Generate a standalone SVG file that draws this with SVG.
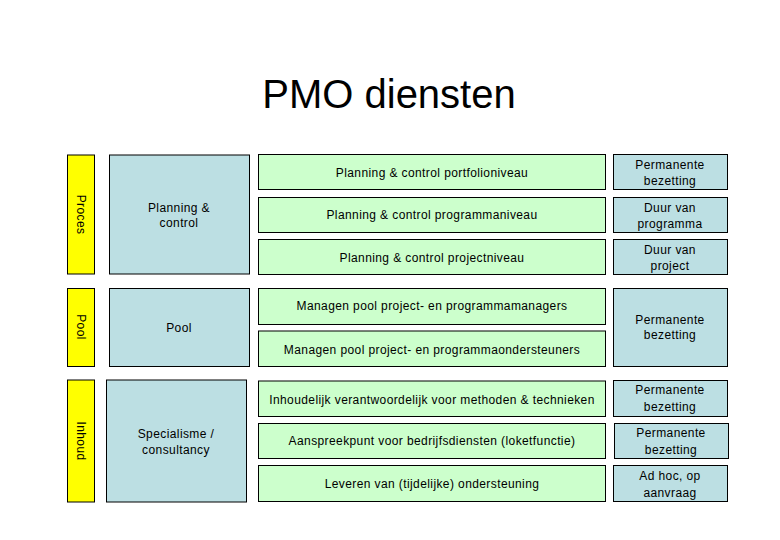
<svg xmlns="http://www.w3.org/2000/svg" width="780" height="540" viewBox="0 0 780 540">
<style>
.y{fill:#FFFF00;stroke:#000;stroke-width:1}
.b{fill:#BCDFE3;stroke:#000;stroke-width:1}
.g{fill:#CCFFCC;stroke:#000;stroke-width:1}
text{font-family:"Liberation Sans",Arial,sans-serif;font-size:12px;fill:#000;text-anchor:middle;letter-spacing:0.4px}
.t{font-size:40px;letter-spacing:0}
</style>
<rect width="780" height="540" fill="#fff"/>
<text class="t" x="389" y="108">PMO diensten</text>
<g id="proces">
<rect class="y" x="67.5" y="155" width="27" height="119"/>
<text transform="translate(77 214.5) rotate(90)">Proces</text>
</g>
<g id="pool-label">
<rect class="y" x="67.5" y="288.5" width="27" height="78"/>
<text transform="translate(77 327) rotate(90)">Pool</text>
</g>
<g id="inhoud">
<rect class="y" x="67.5" y="380" width="27" height="122"/>
<text transform="translate(77 441) rotate(90)">Inhoud</text>
</g>
<g id="planning">
<rect class="b" x="109.5" y="155" width="140" height="119"/>
<text x="179" y="212">Planning &amp;</text>
<text x="179" y="227">control</text>
</g>
<g id="pool">
<rect class="b" x="109.5" y="288.5" width="140" height="78"/>
<text x="179" y="332">Pool</text>
</g>
<g id="specialisme">
<rect class="b" x="106.5" y="380" width="140" height="122"/>
<text x="176" y="438">Specialisme /</text>
<text x="176" y="454">consultancy</text>
</g>
<g id="r1">
<rect class="g" x="258.5" y="154.5" width="347" height="35"/>
<text x="432" y="177">Planning &amp; control portfolioniveau</text>
</g>
<g id="r2">
<rect class="g" x="258.5" y="197.5" width="347" height="35"/>
<text x="432" y="219">Planning &amp; control programmaniveau</text>
</g>
<g id="r3">
<rect class="g" x="258.5" y="239.5" width="347" height="35"/>
<text x="432" y="262">Planning &amp; control projectniveau</text>
</g>
<g id="r4">
<rect class="g" x="258.5" y="288.5" width="347" height="36"/>
<text x="432" y="310">Managen pool project- en programmamanagers</text>
</g>
<g id="r5">
<rect class="g" x="258.5" y="331" width="347" height="35.5"/>
<text x="432" y="354">Managen pool project- en programmaondersteuners</text>
</g>
<g id="r6">
<rect class="g" x="258.5" y="381" width="347" height="35.5"/>
<text x="432" y="404">Inhoudelijk verantwoordelijk voor methoden &amp; technieken</text>
</g>
<g id="r7">
<rect class="g" x="258.5" y="423.5" width="347" height="35"/>
<text x="432" y="445">Aanspreekpunt voor bedrijfsdiensten (loketfunctie)</text>
</g>
<g id="r8">
<rect class="g" x="258.5" y="465.5" width="347" height="36"/>
<text x="432" y="488">Leveren van (tijdelijke) ondersteuning</text>
</g>
<g id="d1">
<rect class="b" x="613.5" y="154.5" width="114" height="35"/>
<text x="670" y="169">Permanente</text>
<text x="670" y="185">bezetting</text>
</g>
<g id="d2">
<rect class="b" x="613.5" y="197.5" width="114" height="35"/>
<text x="670" y="212">Duur van</text>
<text x="670" y="228">programma</text>
</g>
<g id="d3">
<rect class="b" x="613.5" y="239.5" width="114" height="35"/>
<text x="670" y="254">Duur van</text>
<text x="670" y="270">project</text>
</g>
<g id="d4">
<rect class="b" x="613.5" y="288.5" width="114" height="78"/>
<text x="670" y="324">Permanente</text>
<text x="670" y="339">bezetting</text>
</g>
<g id="d5">
<rect class="b" x="613.5" y="380.5" width="114" height="36"/>
<text x="670" y="394">Permanente</text>
<text x="670" y="411">bezetting</text>
</g>
<g id="d6">
<rect class="b" x="614.5" y="423.5" width="114" height="35"/>
<text x="671" y="437">Permanente</text>
<text x="671" y="454">bezetting</text>
</g>
<g id="d7">
<rect class="b" x="613.5" y="465.5" width="114" height="36"/>
<text x="670" y="480">Ad hoc, op</text>
<text x="670" y="497">aanvraag</text>
</g>
<g id="connectors"/>
</svg>
